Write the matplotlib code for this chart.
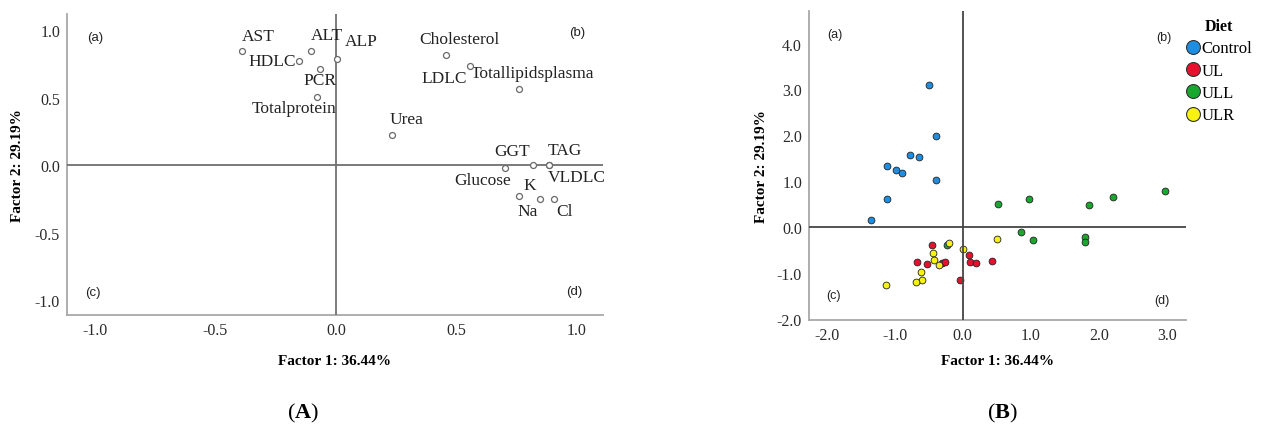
import matplotlib
matplotlib.use('Agg')
import matplotlib.pyplot as plt
from matplotlib.lines import Line2D
from matplotlib.ticker import FormatStrFormatter

plt.rcParams['font.family'] = ['Liberation Serif', 'DejaVu Serif']
plt.rcParams['axes.unicode_minus'] = False
plt.rcParams['mathtext.fontset'] = 'custom'
plt.rcParams['mathtext.bf'] = 'Liberation Serif:bold'
plt.rcParams['mathtext.rm'] = 'Liberation Serif'

# (A) factor loadings
var_names = ['AST', 'ALT', 'HDLC', 'ALP', 'PCR', 'Totalprotein', 'Cholesterol', 'LDLC',
             'Totallipidsplasma', 'Urea', 'GGT', 'TAG', 'Glucose', 'VLDLC', 'K', 'Na', 'Cl']
load_f1 = [-0.39, -0.105, -0.153, 0.003, -0.064, -0.078, 0.455, 0.557,
           0.760, 0.231, 0.819, 0.882, 0.701, 0.885, 0.760, 0.847, 0.903]
load_f2 = [0.848, 0.843, 0.773, 0.785, 0.713, 0.508, 0.813, 0.738,
           0.568, 0.225, 0.002, 0.002, -0.020, 0.002, -0.230, -0.253, -0.253]

# (B) factor scores per diet
diets = ['Control', 'UL', 'ULL', 'ULR']
colors = ['#1f8ee0', '#e8112d', '#17a82d', '#f7f214']
score_f1 = {
    'Control': [-0.50, -0.387, -0.78, -0.647, -1.113, -0.98, -0.887, -0.397, -1.113, -1.348],
    'ULL': [0.515, 0.971, 1.858, 2.206, 2.966, 0.853, 1.029, 1.80, 1.80, -0.225],
    'UL': [-0.456, -0.676, -0.525, -0.309, -0.26, 0.098, 0.108, 0.191, 0.422, -0.034],
    'ULR': [-0.196, -0.431, -0.422, -0.348, -0.618, -0.603, -0.686, -1.132, 0.01, 0.505],
}
score_f2 = {
    'Control': [3.10, 1.98, 1.57, 1.52, 1.34, 1.24, 1.17, 1.02, 0.60, 0.16],
    'ULL': [0.495, 0.604, 0.48, 0.662, 0.785, -0.116, -0.284, -0.218, -0.327, -0.40],
    'UL': [-0.393, -0.771, -0.80, -0.793, -0.771, -0.618, -0.771, -0.785, -0.742, -1.156],
    'ULR': [-0.349, -0.56, -0.72, -0.822, -0.989, -1.149, -1.193, -1.265, -0.487, -0.262],
}

# label offsets in pixels (dx, dy, ha)
label_pos = {
    'AST': (0, 15, 'left'), 'ALT': (0, 16, 'left'), 'HDLC': (-3, 0, 'right'),
    'ALP': (8, 18, 'left'), 'PCR': (0, -11, 'center'), 'Totalprotein': (19, -11, 'right'),
    'Cholesterol': (14, 16, 'center'), 'LDLC': (-3, -12, 'right'),
    'Totallipidsplasma': (-48, 16, 'left'), 'Urea': (-2, 16, 'left'),
    'GGT': (-3, 14, 'right'), 'TAG': (-1, 15, 'left'), 'Glucose': (6, -12, 'right'),
    'VLDLC': (-1, -12, 'left'), 'K': (4, 11, 'left'), 'Na': (-2, -12, 'right'),
    'Cl': (3, -12, 'left'),
}

W, H = 1263, 427
fig = plt.figure(figsize=(W / 100, H / 100), dpi=100)
ax = fig.add_axes([67 / W, 1 - 316 / H, 536 / W, 301 / H])
ax1 = fig.add_axes([809 / W, 1 - 321 / H, 377 / W, 309 / H])


def style_axes(a, linecol):
    for s in ['top', 'right']:
        a.spines[s].set_visible(False)
    for s in ['left', 'bottom']:
        a.spines[s].set_color('#a8a8a8')
        a.spines[s].set_linewidth(1.3)
    a.tick_params(length=0, pad=5, labelsize=11.5, labelcolor='#2a2a2a')
    a.xaxis.set_major_formatter(FormatStrFormatter('%.1f'))
    a.yaxis.set_major_formatter(FormatStrFormatter('%.1f'))
    a.axhline(0, color=linecol, lw=1.3, zorder=3)
    a.axvline(0, color=linecol, lw=1.3, zorder=3)
    a.set_xlabel('Factor 1: 36.44%', fontsize=11, fontweight='bold')
    a.set_ylabel('Factor 2: 29.19%', fontsize=11, fontweight='bold')


# ---- panel A
style_axes(ax, '#707070')
ax.set_xlim(-1.115, 1.108)
ax.set_ylim(-1.11, 1.12)
ax.set_xticks([-1.0, -0.5, 0.0, 0.5, 1.0])
ax.set_yticks([-1.0, -0.5, 0.0, 0.5, 1.0])
ax.plot(load_f1, load_f2, 'o', mfc='white', mec='#6a6a6a', ms=4.3, mew=0.9, zorder=4)
for name, x, y in zip(var_names, load_f1, load_f2):
    dx, dy, ha = label_pos[name]
    ax.annotate(name, (x, y), xytext=(dx, dy), textcoords='offset pixels',
                ha=ha, va='center', fontsize=12.5, color='#222222')
for t, x, y in [('(a)', -1.0, 0.95), ('(b)', 1.0, 0.985), ('(c)', -1.008, -0.94), ('(d)', 0.988, -0.93)]:
    ax.text(x, y, t, family='Liberation Sans', fontsize=9.5, ha='center', va='center', color='#222222')
ax.xaxis.set_label_coords(0.5, -0.15)
ax.xaxis.label.set_va('center')
ax.yaxis.set_label_coords(-0.093, 0.5)
ax.yaxis.label.set_va('center')

# ---- panel B
style_axes(ax1, '#454545')
ax1.set_xlim(-2.26, 3.28)
ax1.set_ylim(-2.03, 4.71)
ax1.set_xticks([-2.0, -1.0, 0.0, 1.0, 2.0, 3.0])
ax1.set_yticks([-2.0, -1.0, 0.0, 1.0, 2.0, 3.0, 4.0])
for d, c in zip(['Control', 'ULL', 'UL', 'ULR'], [colors[0], colors[2], colors[1], colors[3]]):
    ax1.scatter(score_f1[d], score_f2[d], s=24, c=c, edgecolors='#222222', linewidths=0.6, zorder=2)
for t, x, y in [('(a)', -1.887, 4.2), ('(b)', 2.96, 4.15), ('(c)', -1.90, -1.49), ('(d)', 2.93, -1.6)]:
    ax1.text(x, y, t, family='Liberation Sans', fontsize=9, ha='center', va='center', color='#222222')
ax1.xaxis.set_label_coords(0.5, -0.13)
ax1.xaxis.label.set_va('center')
ax1.yaxis.set_label_coords(-0.127, 0.5)
ax1.yaxis.label.set_va('center')

handles = [Line2D([], [], ls='none', marker='o', ms=10, mfc=c, mec='#333333', mew=0.8) for c in colors]
leg = ax1.legend(handles, diets, title='Diet', loc='upper left', bbox_to_anchor=(1186 / W, 1 - 19 / H),
                 bbox_transform=fig.transFigure, frameon=False, fontsize=12, borderpad=0,
                 borderaxespad=0, handlelength=0.8, handletextpad=0.15, labelspacing=0.38)
leg.get_title().set_fontweight('bold')
leg.get_title().set_fontsize(11.5)

fig.text(303 / W, 1 - 413 / H, r'($\mathbf{A}$)', fontsize=16, ha='center', va='center')
fig.text(1002 / W, 1 - 413 / H, r'($\mathbf{B}$)', fontsize=16, ha='center', va='center')

fig.savefig('out.png', dpi=100)
